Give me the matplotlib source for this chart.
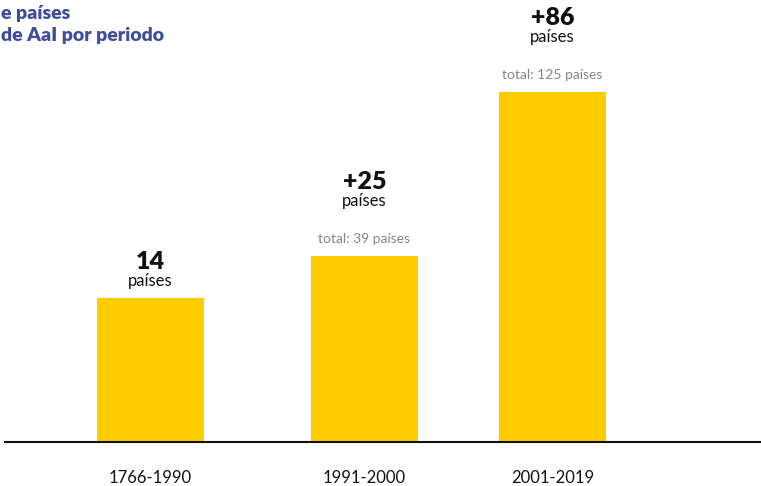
import matplotlib
matplotlib.use("Agg")
import matplotlib.pyplot as plt

# datos
periodos = ["1766-1990", "1991-2000", "2001-2019"]
nuevos = ["14", "+25", "+86"]
totales = [None, "total: 39 países", "total: 125 países"]
# altura visual de cada barra (como aparece en el gráfico)
alturas = [144, 186, 350]

amarillo = "#FFCC00"
azul = "#3F4C9E"
plt.rcParams["font.family"] = ["Lato", "DejaVu Sans"]

fig = plt.figure(figsize=(7.61, 4.86), dpi=100)
ax = fig.add_axes([0, 44 / 486, 1, 442 / 486])
ax.set_xlim(0, 761)
ax.set_ylim(0, 442)

xpos = [150.5, 364.5, 552.5]
ax.bar(xpos, alturas, width=107, color=amarillo, zorder=2)

for x, h, n, t in zip(xpos, alturas, nuevos, totales):
    if t is None:
        y = h + 9
    else:
        ax.text(x, h + 11, t, ha="center", va="bottom", fontsize=10, color="#858585")
        y = h + 47
    ax.text(x, y, "países", ha="center", va="bottom", fontsize=12, color="#111111")
    ax.text(x, y + 16, n, ha="center", va="bottom", fontsize=18, fontweight="heavy", color="#111111")

# línea base
ax.plot([5, 761], [0, 0], color="#111111", lw=1.5, clip_on=False, zorder=3)

ax.set_xticks(xpos)
ax.set_xticklabels(periodos, fontsize=12, color="#111111")
ax.tick_params(axis="x", length=0, pad=20)
ax.set_yticks([])
for s in ax.spines.values():
    s.set_visible(False)

# título (cortado en el original)
fig.text(0.001, 1 - 13 / 486, "e países", ha="left", va="center", fontsize=14,
         fontweight="heavy", color=azul)
fig.text(0.001, 1 - 35 / 486, "de AaI por periodo", ha="left", va="center", fontsize=14,
         fontweight="heavy", color=azul)

fig.savefig("out.png", dpi=100)
